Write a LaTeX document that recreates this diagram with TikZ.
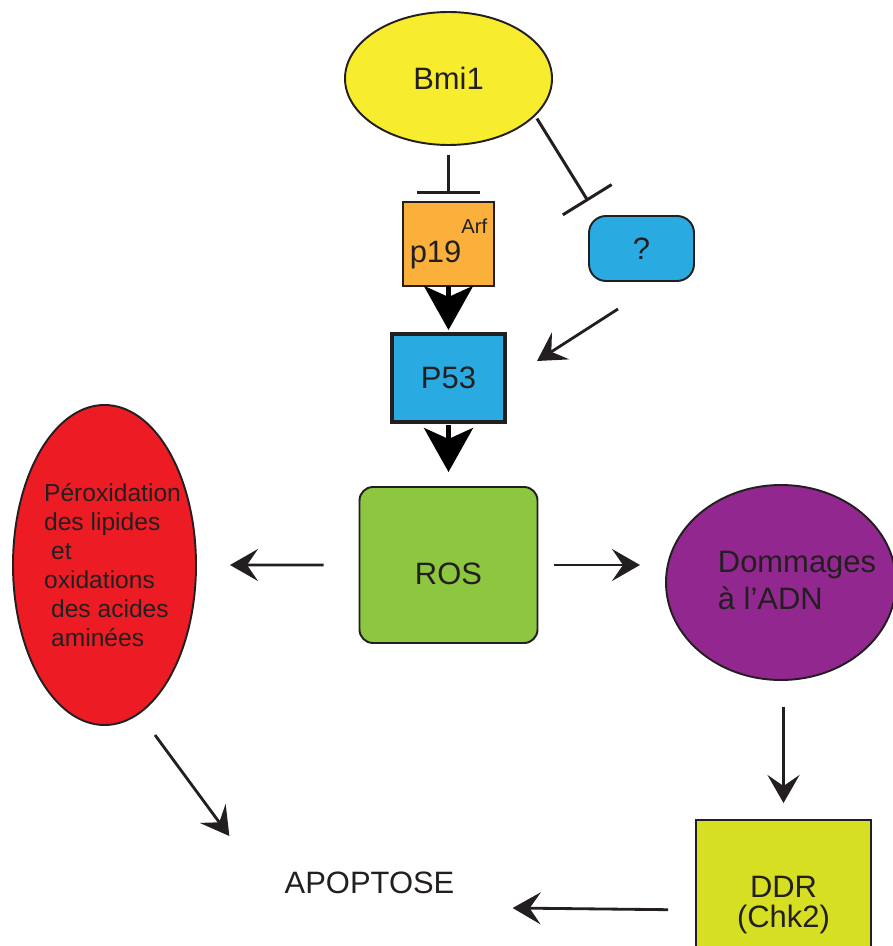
\documentclass[tikz,border=0pt]{standalone}
\usepackage{fontspec}
\setmainfont{Liberation Sans}
\usepackage{tikz}
\usetikzlibrary{shapes.geometric, arrows.meta, positioning}
\definecolor{mydark}{RGB}{35,31,32}
\definecolor{bmiyellow}{RGB}{247,236,45}
\definecolor{arforange}{RGB}{251,176,59}
\definecolor{pblue}{RGB}{41,171,226}
\definecolor{rosgreen}{RGB}{141,198,63}
\definecolor{lipred}{RGB}{237,28,36}
\definecolor{dnapurple}{RGB}{146,39,143}
\definecolor{ddrlime}{RGB}{215,223,35}
\tikzset{
  mainfont/.style={font=\fontsize{17.6}{20.5}\selectfont, text=mydark},
  lipidfont/.style={font=\fontsize{14}{16.5}\selectfont, text=mydark},
  genebox/.style={rectangle, draw=mydark, line width=1.1pt, inner sep=0pt,
    outer sep=0pt, mainfont, align=center},
  genoval/.style={ellipse, draw=mydark, line width=1.1pt, inner sep=0pt,
    outer sep=0pt, mainfont, align=center},
  arrow/.style={-{Stealth[length=0.56cm, width=0.64cm, inset=0.22cm]},
    line width=1.6pt, color=mydark},
  bigarrow/.style={-{Stealth[length=0.88cm, width=0.98cm, inset=0.22cm]},
    line width=2.8pt, color=black},
  inhib/.style={line width=1.7pt, color=mydark}
}

\begin{document}
\begin{tikzpicture}
  \useasboundingbox (0,0) rectangle (17.84,-18.92);

  % Bmi1 and its targets
  \node[genoval, fill=bmiyellow, minimum width=4.14cm, minimum height=2.66cm] (bmi) at (8.97,-1.57) {Bmi1};
  \node[genebox, fill=arforange, minimum width=1.82cm, minimum height=1.68cm] (p19) at (8.97,-4.88)
    {p19\raisebox{0.58cm}{\fontsize{11.5}{12}\selectfont Arf}};
  \node[genebox, fill=pblue, rounded corners=0.34cm, minimum width=2.1cm, minimum height=1.3cm] (unknown) at (12.83,-4.97) {?};

  % P53 and ROS
  \node[genebox, fill=pblue, line width=2.2pt, minimum width=2.26cm, minimum height=1.76cm, below=0.96cm of p19] (p53) {P53};
  \node[genebox, fill=rosgreen, rounded corners=0.27cm, minimum width=3.56cm, minimum height=3.12cm, below=1.3cm of p53,
    label={[mainfont, yshift=-0.18cm]center:ROS}] (ros) {};

  % Damage
  \node[genoval, fill=lipred, minimum width=3.66cm, minimum height=6.4cm,
    label={[lipidfont, align=left, xshift=0.16cm]center:{P\'eroxidation\\des lipides\\\hspace{0.14cm}et\\oxidations\\\hspace{0.14cm}des acides\\\hspace{0.14cm}amin\'ees}}] (perox) at (2.09,-11.3) {};
  \node[genoval, fill=dnapurple, minimum width=4.6cm, minimum height=3.9cm,
    label={[mainfont, align=left, xshift=0.32cm, yshift=0.04cm]center:{Dommages\\à l’ADN}}] (dna) at (15.62,-11.65) {};
  \node[genebox, fill=ddrlime, minimum width=3.5cm, minimum height=3.4cm, font=\fontsize{17.6}{17}\selectfont] (ddr) at (15.67,-18.1) {DDR\\(Chk2)};
  \node[mainfont, inner sep=0pt] (apop) at (7.39,-17.66) {APOPTOSE};

  % Connectors
  \draw[inhib, -{Bar[width=1.26cm]}, shorten <=0.2cm, shorten >=0.16cm] (bmi.south) -- (p19.north);
  \draw[inhib, -{Bar[width=1.15cm]}, shorten <=0.08cm] (bmi.-23) -- ([shift={(-0.02,0.3)}]unknown.north west);
  \draw[bigarrow, shorten >=0.08cm] (p19.south) -- (p53.north);
  \draw[bigarrow, shorten <=0.06cm, shorten >=0.3cm] (p53.south) -- (ros.north);
  \draw[arrow] ([shift={(-0.47,-0.56)}]unknown.south) -- ([shift={(0.64,0.34)}]p53.east);
  \draw[arrow, shorten <=0.72cm, shorten >=0.68cm] (ros.west) -- (perox.east);
  \draw[arrow, shorten <=0.32cm, shorten >=0.52cm] (ros.east) -- (ros.east -| dna.west);
  \draw[arrow, shorten <=0.54cm, shorten >=0.34cm] (ddr.north |- dna.south) -- (ddr.north);
  \draw[arrow, shorten <=0.56cm] ([yshift=-0.1cm]ddr.west) -- ([shift={(1.16,-0.5)}]apop.east);
  \draw[arrow] ([shift={(1.01,-0.2)}]perox.south) -- ([shift={(-1.1,0.94)}]apop.west);
\end{tikzpicture}
\end{document}
